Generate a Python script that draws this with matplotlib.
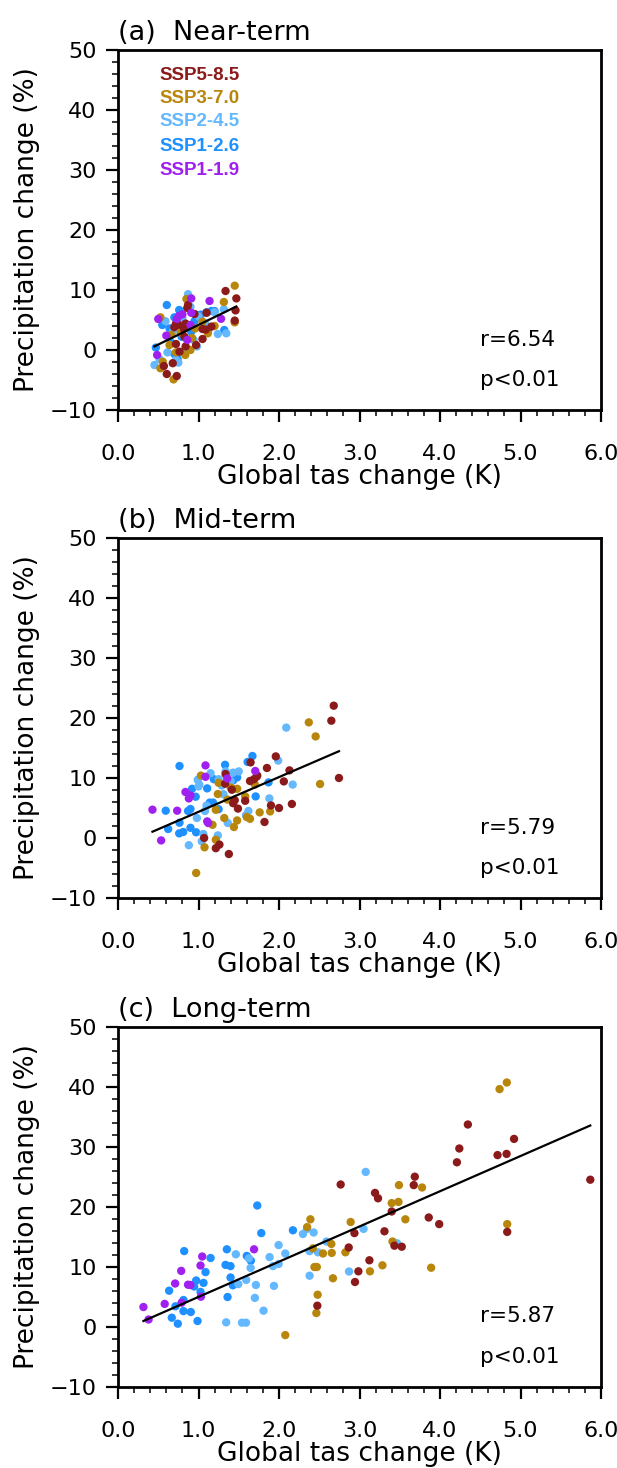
import matplotlib
matplotlib.use("Agg")
import matplotlib.pyplot as plt
import numpy as np
from matplotlib.ticker import MultipleLocator, FixedLocator, FixedFormatter

# ---------------- data ----------------
scenarios = ["SSP5-8.5", "SSP3-7.0", "SSP2-4.5", "SSP1-2.6", "SSP1-1.9"]
colors = ["#8B1A1A", "#B8860B", "#63B8FF", "#1E90FF", "#A020F0"]
titles = ["(a)  Near-term", "(b)  Mid-term", "(c)  Long-term"]
slopes = [6.54, 5.79, 5.87]
intercepts = [-2.36, -1.43, -0.905]
r_labels = ["r=6.54", "r=5.79", "r=5.87"]
p_labels = ["p<0.01", "p<0.01", "p<0.01"]
xticks = [0, 1, 2, 3, 4, 5, 6]
xticklabels = ["0.0", "1.0", "2.0", "3.0", "4.0", "5.0", "6.0"]
yticks = [-10, 0, 10, 20, 30, 40, 50]

# ---- (a) near-term ----
a_585_x = [0.606, 0.57, 0.68, 0.73, 0.764, 0.72, 0.75, 0.72, 0.70, 0.86, 0.87, 0.826, 0.84, 0.84,
           0.97, 1.05, 1.05, 1.09, 1.1, 1.16, 1.336, 1.47, 1.45, 1.46, 0.95, 0.82]
a_585_y = [-4.0, -2.67, -2.2, -4.33, -0.28, 1.0, 4.2, 4.4, 3.8, 7.0, 7.5, 2.2, 0.6, 4.4,
           0.83, 1.83, 3.5, 3.4, 6.2, 3.9, 9.83, 8.6, 4.9, 6.6, 6.0, 3.5]
a_370_x = [0.527, 0.527, 0.556, 0.69, 0.64, 0.66, 0.85, 0.835, 0.90, 1.05, 1.116, 1.315, 1.45,
           1.45, 0.78, 0.74, 0.96, 0.92, 0.72, 1.2]
a_370_y = [5.45, -3.05, -1.95, -4.9, 0.83, 2.5, 8.5, -0.83, 0.0, 4.72, 2.78, 8.0, 10.72,
           4.6, 2.9, 4.2, 3.6, 2.0, -0.4, 4.0]
a_245_x = [0.453, 0.515, 0.614, 0.72, 0.75, 0.87, 0.94, 1.24, 1.315, 1.345, 0.59, 0.68, 0.80,
           0.9, 1.0, 1.08, 1.2, 0.84, 0.98, 1.12]
a_245_y = [-2.5, -1.5, -0.4, -1.67, -2.1, 9.3, 1.67, 2.67, 6.78, 2.78, 4.8, 3.0, 5.3,
           7.2, 5.6, 4.5, 6.3, 0.3, 0.6, 3.2]
a_126_x = [0.606, 0.47, 0.55, 0.64, 0.70, 0.76, 0.70, 0.826, 0.91, 0.98, 1.03, 1.1, 1.16, 1.2,
           1.32, 0.79, 0.66, 0.95, 0.74, 0.85]
a_126_y = [7.5, 0.4, 4.17, 3.6, -0.67, 6.67, 5.45, -0.28, 3.05, 5.83, 5.9, 6.3, 6.5, 6.5,
           3.33, 2.2, 1.2, 4.8, -1.5, 4.0]
a_119_x = [0.50, 0.486, 0.60, 0.73, 0.76, 0.80, 0.91, 0.91, 0.90, 0.86, 1.137, 1.28]
a_119_y = [5.17, -0.83, 2.4, 5.17, 5.72, 5.95, 8.6, 6.2, 4.17, 1.67, 8.17, 5.2]

# ---- (b) mid-term ----
b_585_x = [1.07, 1.215, 1.26, 1.377, 1.336, 1.33, 1.414, 1.43, 1.45, 1.49, 1.58, 1.647, 1.64,
           1.69, 1.72, 1.73, 1.82, 1.85, 1.9, 1.96, 2.0, 2.06, 2.13, 2.16, 2.65, 2.68, 2.745]
b_585_y = [0.0, -1.7, -1.1, -2.67, 10.67, 9.05, 8.05, 5.8, 6.3, 4.9, 6.2, 12.6, 9.5,
           9.8, 10.2, 10.4, 2.67, 11.67, 5.43, 13.6, 5.0, 9.43, 11.27, 5.67, 19.55, 22.05, 10.0]
b_370_x = [0.971, 1.03, 1.075, 1.174, 1.215, 1.215, 1.24, 1.25, 1.32, 1.36, 1.4, 1.43, 1.44,
           1.48, 1.48, 1.58, 1.6, 1.64, 1.7, 1.76, 1.89, 2.37, 2.455, 2.51]
b_370_y = [-5.83, 10.4, -1.55, 2.2, 4.7, -0.3, 7.33, 9.2, 3.33, 6.4, 8.4, 8.2, 1.83,
           8.2, 2.93, 6.93, 3.5, 3.2, 8.9, 4.27, 4.43, 19.27, 16.93, 9.0]
b_245_x = [0.88, 0.98, 0.99, 1.01, 1.0, 1.04, 1.06, 1.08, 1.15, 1.1, 1.24, 1.25, 1.29, 1.31,
           1.364, 1.336, 1.4, 1.43, 1.5, 1.59, 1.6, 1.62, 1.88, 1.99, 2.09, 2.17]
b_245_y = [-1.2, 3.33, 9.7, 8.9, 8.6, -0.55, 0.67, 4.5, 10.8, 5.4, 0.43, 9.8, 8.75, 7.3,
           2.5, 11.1, 9.5, 10.9, 11.1, 3.8, 3.55, 4.5, 6.6, 12.9, 18.4, 8.9]
b_126_x = [0.593, 0.623, 0.764, 0.764, 0.76, 0.81, 0.87, 0.9, 0.9, 0.965, 0.97, 1.108, 1.14,
           1.18, 1.19, 1.33, 1.48, 1.61, 1.67, 1.71, 1.87, 0.92, 1.43, 1.25]
b_126_y = [4.55, 1.5, 12.0, 2.55, 0.77, 1.0, 4.5, 4.83, 1.7, 6.88, 0.95, 8.27, 5.9,
           5.9, 9.8, 12.2, 10.1, 12.67, 13.67, 6.93, 9.27, 8.2, 9.6, 4.8]
b_119_x = [0.428, 0.536, 0.735, 0.838, 0.88, 0.90, 1.087, 1.087, 1.108, 1.12, 1.357, 1.705]
b_119_y = [4.72, -0.4, 4.55, 7.67, 6.6, 7.1, 12.1, 10.2, 2.77, 2.5, 9.93, 11.17]

# ---- (c) long-term ----
c_585_x = [2.766, 2.937, 2.866, 3.123, 2.986, 2.944, 2.476, 3.193, 3.23, 3.40, 3.31, 3.434,
           3.525, 3.687, 3.674, 3.86, 3.99, 4.21, 4.24, 4.346, 4.715, 4.827, 4.92, 4.835, 5.867]
c_585_y = [23.7, 15.6, 13.2, 11.07, 9.23, 7.45, 3.5, 22.3, 21.4, 19.2, 15.9, 13.5,
           13.33, 25.0, 23.6, 18.2, 17.1, 27.4, 29.7, 33.7, 28.6, 28.8, 31.3, 15.8, 24.5]
c_370_x = [2.39, 2.35, 2.42, 2.546, 2.65, 2.655, 2.44, 2.47, 2.67, 2.48, 2.464, 2.825, 2.89,
           3.13, 3.285, 3.40, 3.484, 3.49, 3.41, 3.57, 3.777, 3.89, 2.078, 4.83, 4.74, 4.835]
c_370_y = [17.9, 16.6, 13.05, 12.2, 13.8, 12.3, 9.95, 9.95, 8.07, 5.33, 2.28, 12.4, 17.45,
           9.23, 10.23, 20.6, 20.8, 23.6, 14.2, 17.9, 23.2, 9.83, -1.4, 40.7, 39.6, 17.1]
c_245_x = [1.344, 1.54, 1.59, 1.464, 1.494, 1.593, 1.647, 1.626, 1.713, 1.70, 1.808, 1.883,
           1.925, 1.995, 1.937, 1.995, 2.078, 2.297, 2.347, 2.43, 2.38, 2.38, 2.484, 2.59,
           2.87, 3.05, 3.077, 3.467]
c_245_y = [0.73, 0.67, 0.67, 12.07, 7.1, 7.8, 9.8, 11.4, 6.95, 4.8, 2.67, 11.6,
           10.1, 10.45, 6.8, 13.6, 12.2, 15.45, 16.3, 15.7, 12.6, 8.5, 12.4, 14.2,
           9.2, 16.3, 25.8, 13.9]
c_126_x = [0.635, 0.668, 0.743, 0.714, 0.813, 0.813, 0.822, 0.904, 0.971, 0.946, 0.988, 1.025,
           1.062, 1.087, 1.15, 1.336, 1.398, 1.352, 1.398, 1.427, 1.361, 1.60, 1.65, 1.73,
           1.78, 2.173]
c_126_y = [6.0, 1.5, 0.5, 3.4, 4.45, 2.6, 12.6, 2.45, 7.7, 6.7, 0.95, 5.8,
           7.3, 9.1, 11.45, 10.3, 10.1, 12.9, 8.2, 6.9, 4.95, 11.8, 11.0, 20.2,
           15.6, 16.07]
c_119_x = [0.316, 0.38, 0.58, 0.71, 0.785, 0.79, 0.87, 0.90, 1.025, 1.046, 1.03, 1.69]
c_119_y = [3.28, 1.2, 3.8, 7.2, 9.3, 4.0, 7.0, 6.95, 10.2, 11.7, 5.0, 12.9]

panels = [
    [(a_585_x, a_585_y), (a_370_x, a_370_y), (a_245_x, a_245_y), (a_126_x, a_126_y), (a_119_x, a_119_y)],
    [(b_585_x, b_585_y), (b_370_x, b_370_y), (b_245_x, b_245_y), (b_126_x, b_126_y), (b_119_x, b_119_y)],
    [(c_585_x, c_585_y), (c_370_x, c_370_y), (c_245_x, c_245_y), (c_126_x, c_126_y), (c_119_x, c_119_y)],
]

# ---------------- plot ----------------
plt.rcParams["font.family"] = ["DejaVu Sans"]
fig = plt.figure(figsize=(6.17, 14.68), dpi=100)

left = 118 / 617
width = (601 - 118) / 617
height = 360 / 1468
bottoms = [1 - 410 / 1468, 1 - 898 / 1468, 1 - 1386.7 / 1468]
draw_order = [3, 2, 1, 0, 4]

for i, (b, data) in enumerate(zip(bottoms, panels)):
    ax = fig.add_axes([left, b, width, height])
    for k in draw_order:
        xs, ys = data[k]
        ax.scatter(xs, ys, s=36, color=colors[k], edgecolors="none", zorder=3)
    allx = np.concatenate([np.asarray(d[0]) for d in data])
    xl = np.array([allx.min(), allx.max()])
    ax.plot(xl, slopes[i] * xl + intercepts[i], color="black", lw=1.6, zorder=4)

    ax.set_xlim(0, 6)
    ax.set_ylim(-10, 50)
    ax.xaxis.set_major_locator(FixedLocator(xticks))
    ax.xaxis.set_major_formatter(FixedFormatter(xticklabels))
    ax.xaxis.set_minor_locator(MultipleLocator(0.2))
    ax.set_yticks(yticks)
    ax.yaxis.set_minor_locator(MultipleLocator(2))
    ax.tick_params(axis="both", which="major", direction="out", length=8.5, width=1.6,
                   labelsize=16, top=False, right=False)
    ax.tick_params(axis="both", which="minor", direction="out", length=4.3, width=1.1,
                   top=False, right=False)
    ax.tick_params(axis="x", which="major", pad=16)
    ax.tick_params(axis="y", which="major", pad=7)
    for sp in ax.spines.values():
        sp.set_linewidth(2.0)

    ax.set_xlabel("Global tas change (K)", fontsize=19, labelpad=0)
    ax.set_ylabel("Precipitation change (%)", fontsize=19, labelpad=7)
    ax.set_title(titles[i], loc="left", fontsize=19.5, pad=7)

    ax.text(0.75, 0.195, r_labels[i], transform=ax.transAxes, fontsize=15.5,
            ha="left", va="center")
    ax.text(0.75, 0.083, p_labels[i], transform=ax.transAxes, fontsize=15.5,
            ha="left", va="center")

    if i == 0:
        ys_leg = [0.930, 0.866, 0.800, 0.733, 0.665]
        for k in range(5):
            ax.text(0.085, ys_leg[k], scenarios[k], transform=ax.transAxes,
                    color=colors[k], fontsize=13.5, fontweight="bold",
                    family=["Liberation Sans", "DejaVu Sans"], ha="left", va="center")

fig.savefig("out.png", dpi=100)
